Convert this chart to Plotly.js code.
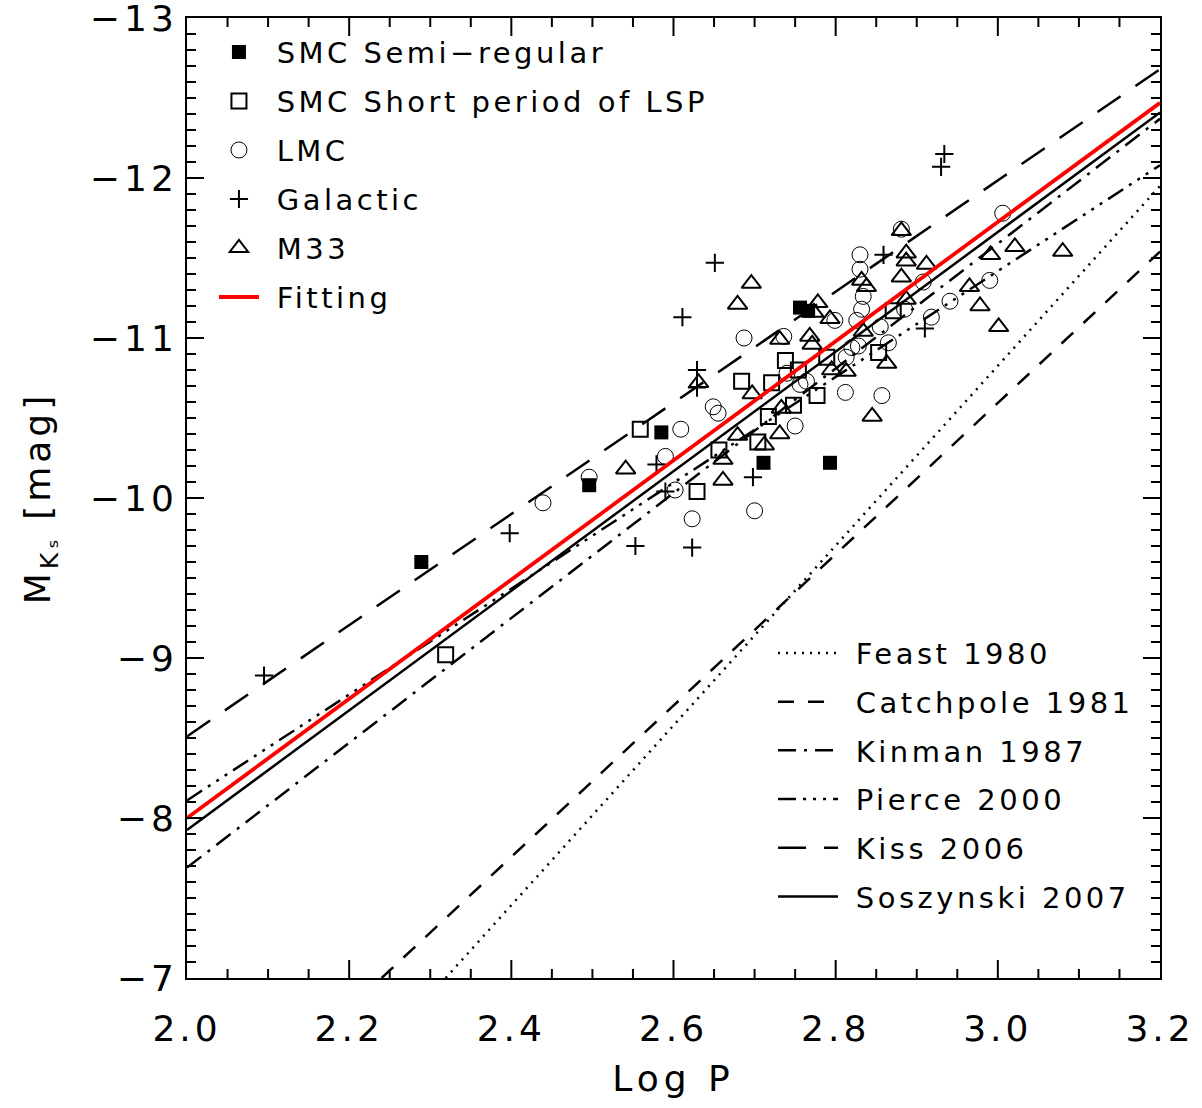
<!DOCTYPE html>
<html><head><meta charset="utf-8">
<script src="https://cdn.plot.ly/plotly-3.0.1.min.js"></script>
<style>
html,body{margin:0;padding:0;background:#fff}
#chart{width:1202px;height:1108px}
text.legendtext, text.legend2text{letter-spacing:3.5px}
.xtick text, .ytick text{letter-spacing:4px}
.g-xtitle text{letter-spacing:5px}
.g-ytitle text{letter-spacing:4px}
</style></head><body><div id="chart"></div>
<script>
// SMC semi-regular (filled squares)
const smcSR_logP = [2.289, 2.496, 2.585, 2.711, 2.756, 2.766, 2.793];
const smcSR_MK   = [-9.60, -10.08, -10.41, -10.22, -11.19, -11.17, -10.22];
// SMC short period of LSP (open squares)
const smcLSP_logP = [2.319, 2.559, 2.629, 2.656, 2.684, 2.704, 2.717, 2.721, 2.738, 2.748, 2.754, 2.777, 2.789, 2.853, 2.871];
const smcLSP_MK   = [-9.02, -10.43, -10.04, -10.30, -10.73, -10.35, -10.51, -10.72, -10.86, -10.58, -10.80, -10.64, -10.88, -10.91, -11.17];
// LMC (open circles)
const lmc_logP = [2.439, 2.496, 2.590, 2.602, 2.609, 2.623, 2.649, 2.655, 2.687, 2.700, 2.736, 2.740, 2.750, 2.756, 2.764, 2.799, 2.812, 2.813, 2.820, 2.828, 2.826, 2.830, 2.830, 2.832, 2.834, 2.855, 2.857, 2.865, 2.881, 2.885, 2.908, 2.918, 2.941, 2.990, 3.006];
const lmc_MK   = [-9.97, -10.13, -10.26, -10.05, -10.43, -9.87, -10.57, -10.53, -11.00, -9.92, -11.01, -10.78, -10.45, -10.71, -10.73, -11.11, -10.66, -10.88, -10.94, -10.95, -11.11, -11.52, -11.43, -11.18, -11.26, -11.07, -10.64, -10.97, -11.68, -11.18, -11.35, -11.13, -11.23, -11.36, -11.78];
// Galactic (plus)
const gal_logP = [2.095, 2.398, 2.553, 2.579, 2.590, 2.611, 2.623, 2.629, 2.629, 2.651, 2.698, 2.859, 2.910, 2.930, 2.934];
const gal_MK   = [-8.89, -9.78, -9.70, -10.21, -10.04, -11.13, -9.69, -10.80, -10.69, -11.47, -10.13, -11.52, -11.06, -12.07, -12.15];
// M33 (open triangles)
const m33_logP = [2.541, 2.631, 2.661, 2.661, 2.679, 2.679, 2.696, 2.697, 2.712, 2.731, 2.731, 2.733, 2.768, 2.771, 2.773, 2.778, 2.793, 2.795, 2.813, 2.832, 2.834, 2.838, 2.845, 2.863, 2.881, 2.881, 2.887, 2.887, 2.887, 2.912, 2.965, 2.978, 2.991, 3.001, 3.021, 3.080];
const m33_MK   = [-10.18, -10.72, -10.24, -10.11, -11.21, -10.39, -11.34, -10.65, -10.33, -10.99, -10.40, -10.56, -11.01, -10.96, -11.16, -11.22, -11.12, -10.80, -10.79, -11.36, -11.04, -11.32, -10.51, -10.84, -11.67, -11.38, -11.53, -11.48, -11.24, -11.46, -11.32, -11.20, -11.52, -11.07, -11.57, -11.54];

// PL relations, end points
const relNames = ["Feast 1980", "Catchpole 1981", "Kinman 1987", "Pierce 2000", "Kiss 2006", "Soszynski 2007"];
const relLogP = [[2.319, 3.2], [2.240, 3.2], [2.0, 3.2], [2.0, 3.2], [2.0, 3.2], [2.0, 3.2]];
const relMK   = [[-7.0, -11.95], [-7.0, -11.54], [-7.69, -12.37], [-8.11, -12.08], [-8.51, -12.68], [-7.925, -12.41]];
const fitLogP = [2.0, 3.2];
const fitMK   = [-8.00, -12.47];

// tick labels
const xTicks = [2.0, 2.2, 2.4, 2.6, 2.8, 3.0, 3.2];
const yTicks = [-13, -12, -11, -10, -9, -8, -7];

const relDash = ["2px,6px", "16px,14px", "18px,8px,3px,8px", "18px,7px,3px,7px,3px,7px,3px,7px", "28px,18px", "solid"];

const FONT = "DejaVu Sans, Liberation Sans, sans-serif";
const blk = "#000";
const NB = "\u00a0";

// tick marks (axis decoration): inside ticks on all four sides
const shapes = [];
function tk(axis, v, len) {
  const ln = {color: blk, width: 2};
  if (axis === "x") {
    shapes.push({type: "line", xref: "x", yref: "paper", ysizemode: "pixel", yanchor: 0, x0: v, x1: v, y0: 0, y1: len, line: ln});
    shapes.push({type: "line", xref: "x", yref: "paper", ysizemode: "pixel", yanchor: 1, x0: v, x1: v, y0: 0, y1: -len, line: ln});
  } else {
    shapes.push({type: "line", yref: "y", xref: "paper", xsizemode: "pixel", xanchor: 0, y0: v, y1: v, x0: 0, x1: len, line: ln});
    shapes.push({type: "line", yref: "y", xref: "paper", xsizemode: "pixel", xanchor: 1, y0: v, y1: v, x0: 0, x1: -len, line: ln});
  }
}
for (let i = 1; i < 24; i++) tk("x", +(2.0 + i * 0.05).toFixed(2), i % 4 === 0 ? 18 : 9);
for (let i = 1; i < 60; i++) tk("y", +(-13 + i * 0.1).toFixed(1), i % 10 === 0 ? 17 : 9);

function pts(name, x, y, symbol, size, lw, grp) {
  return {type: "scatter", mode: "markers", name: NB + name, x: x, y: y,
    legend: "legend", legendgroup: grp,
    marker: {symbol: symbol, size: size, color: blk, line: {color: blk, width: lw}}};
}
const traces = [
  pts("SMC Semi\u2212regular", smcSR_logP, smcSR_MK, "square", 14, 0, "a"),
  pts("SMC Short period of LSP", smcLSP_logP, smcLSP_MK, "square-open", 15, 2, "b"),
  pts("LMC", lmc_logP, lmc_MK, "circle-open", 16, 1, "c"),
  pts("Galactic", gal_logP, gal_MK, "cross-thin-open", 13, 2, "d"),
  pts("M33", m33_logP, m33_MK, "triangle-up-open", 17, 2, "e"),
];
relNames.forEach((n, i) => {
  traces.push({type: "scatter", mode: "lines", name: NB + n, x: relLogP[i], y: relMK[i],
    legend: "legend2", legendgroup: "r" + i,
    line: {color: blk, width: 2.5, dash: relDash[i]}});
});
traces.push({type: "scatter", mode: "lines", name: NB + "Fitting", x: fitLogP, y: fitMK,
  legend: "legend", legendgroup: "f", line: {color: "#ff0000", width: 3.8}});

const axisCommon = {
  showline: true, linewidth: 2, linecolor: blk, mirror: true,
  ticks: "", showgrid: false, zeroline: false,
  tickfont: {family: FONT, size: 36, color: blk}, ticklabeloverflow: "allow",
};
const layout = {
  width: 1202, height: 1108,
  margin: {l: 187, r: 42, t: 18, b: 130},
  paper_bgcolor: "#fff", plot_bgcolor: "#fff",
  font: {family: FONT, color: blk},
  showlegend: true,
  shapes: shapes,
  xaxis: Object.assign({}, axisCommon, {
    range: [2.0, 3.2], tickmode: "array", tickvals: xTicks, tickformat: ".1f",
    ticklabelstandoff: 18,
    title: {text: "Log P", font: {family: FONT, size: 36, color: blk}, standoff: 18}
  }),
  yaxis: Object.assign({}, axisCommon, {
    range: [-7, -13], tickmode: "array", tickvals: yTicks,
    title: {text: "M<sub>K\u209b</sub> [mag]", font: {family: FONT, size: 36, color: blk}, standoff: 28}
  }),
  legend: {x: 0.0277, xanchor: "left", y: 0.991, yanchor: "top", bgcolor: "rgba(0,0,0,0)",
    font: {family: FONT, size: 29, color: blk}, traceorder: "grouped", tracegroupgap: 8.3, itemwidth: 40},
  legend2: {x: 0.6023, xanchor: "left", y: 0.365, yanchor: "top", bgcolor: "rgba(0,0,0,0)",
    font: {family: FONT, size: 29, color: blk}, traceorder: "grouped", tracegroupgap: 8.0, itemwidth: 60},
};
Plotly.newPlot("chart", traces, layout, {displayModeBar: false, staticPlot: true});
</script></body></html>
